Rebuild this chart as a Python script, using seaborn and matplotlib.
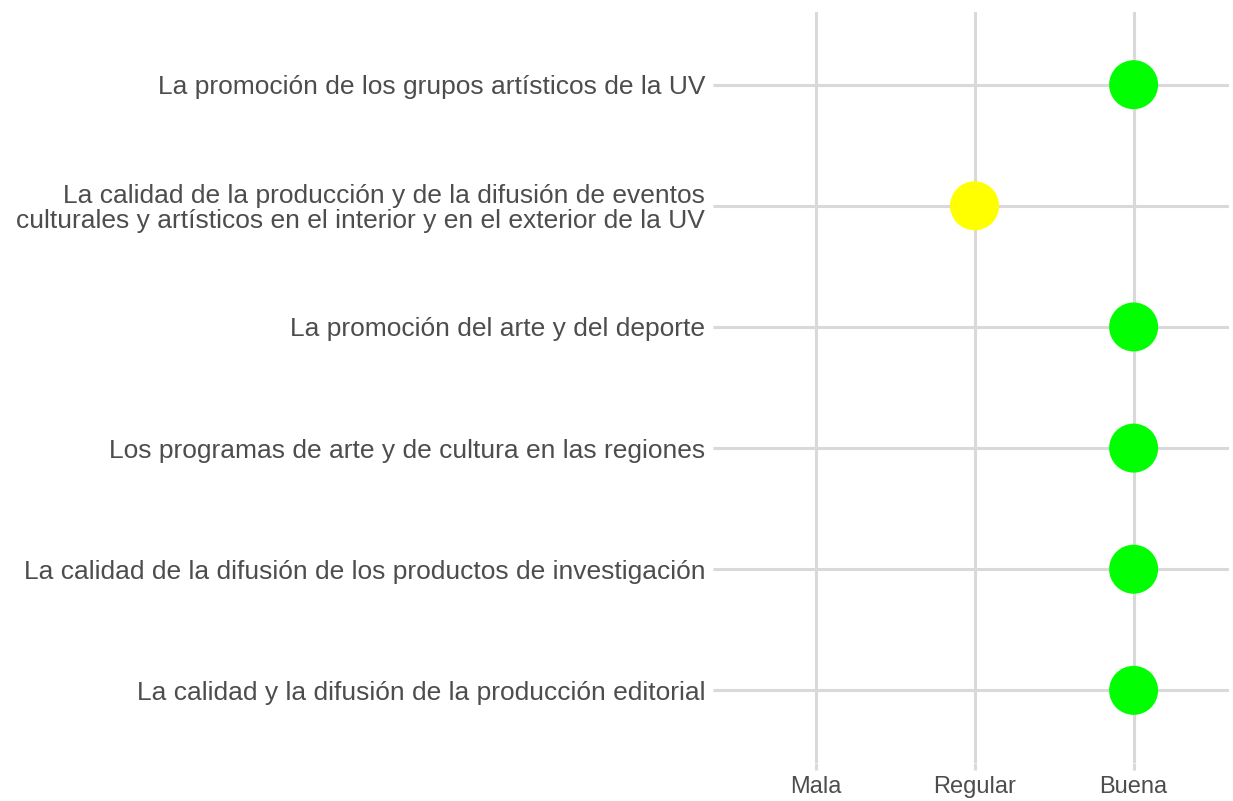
import numpy as np
import pandas as pd
import matplotlib.pyplot as plt
import seaborn as sns

# categorías (de arriba hacia abajo) y calificación
items = [
    'La promoción de los grupos artísticos de la UV',
    'La calidad de la producción y de la difusión de eventos\nculturales y artísticos en el interior y en el exterior de la UV',
    'La promoción del arte y del deporte',
    'Los programas de arte y de cultura en las regiones',
    'La calidad de la difusión de los productos de investigación',
    'La calidad y la difusión de la producción editorial',
]
niveles = ['Mala', 'Regular', 'Buena']
calif = ['Buena', 'Regular', 'Buena', 'Buena', 'Buena', 'Buena']
colores = {'Mala': '#FF0000', 'Regular': '#FFFF00', 'Buena': '#00FF00'}

df = pd.DataFrame({'item': items, 'calif': calif})
df['x'] = df['calif'].map({n: i + 1 for i, n in enumerate(niveles)})
df['y'] = np.arange(len(items), 0, -1)

sns.set_style('white')
plt.rcParams['font.family'] = ['Liberation Sans', 'DejaVu Sans']

fig = plt.figure(figsize=(12.33, 8.01), dpi=100)
ax = fig.add_axes([0.584, 0.0474, 0.4128, 0.9376])

sns.scatterplot(data=df, x='x', y='y', hue='calif', palette=colores,
                s=1245, linewidth=0, legend=False, ax=ax, zorder=3)

ax.set_xlim(0.4, 3.6)
ax.set_ylim(0.4, len(items) + 0.6)
ax.set_xticks(range(1, len(niveles) + 1))
ax.set_xticklabels(niveles)
ax.set_yticks(df['y'])
ax.set_yticklabels(items, linespacing=1.05)
ax.set_xlabel('')
ax.set_ylabel('')
ax.grid(True, color='#d9d9d9', linewidth=2.2)
ax.set_axisbelow(True)
for s in ax.spines.values():
    s.set_visible(False)
ax.tick_params(axis='both', left=True, bottom=True, length=5, width=2.2,
               color='#d9d9d9', labelcolor='#4d4d4d')
ax.tick_params(axis='y', labelsize=19, pad=5.8)
ax.tick_params(axis='x', labelsize=17, pad=4)

fig.savefig('out.png', dpi=100)
